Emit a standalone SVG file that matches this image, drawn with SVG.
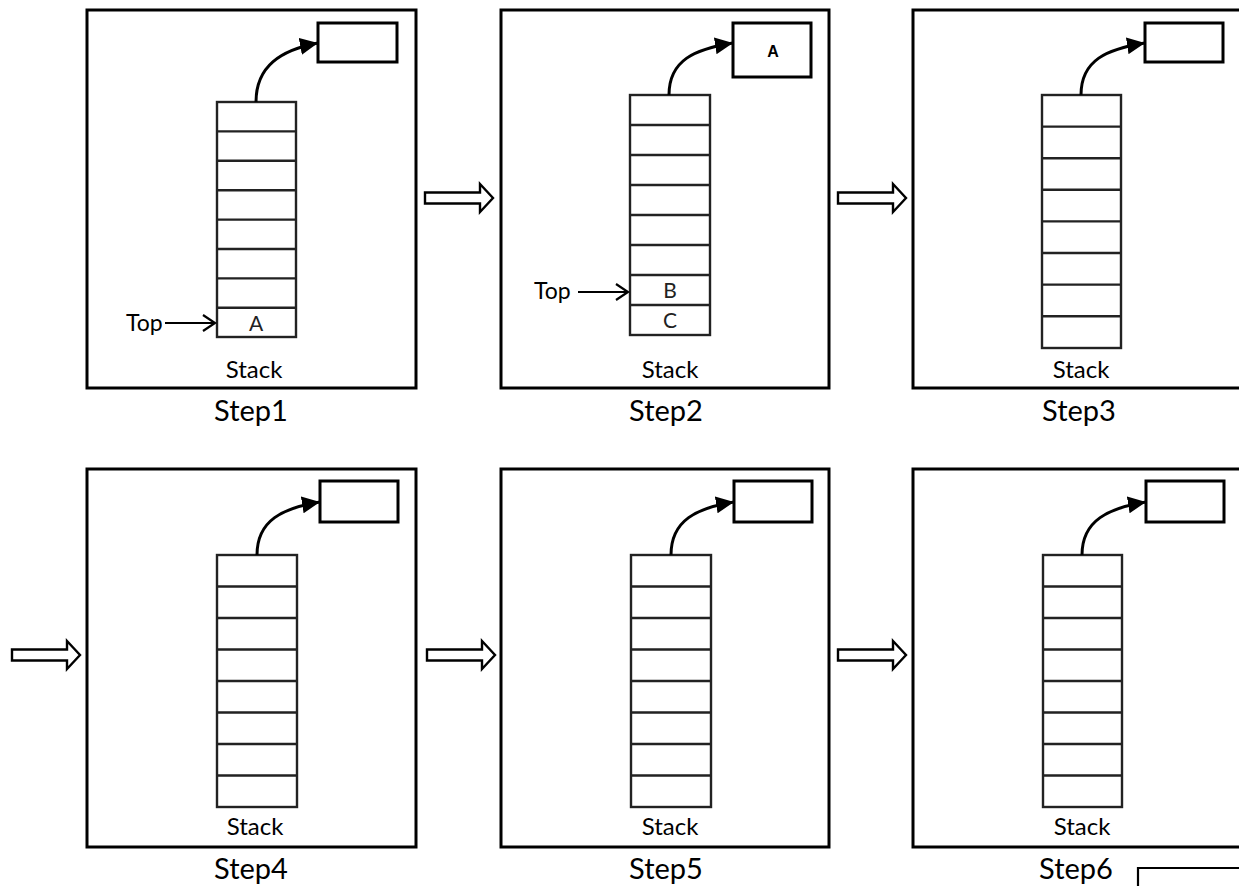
<svg xmlns="http://www.w3.org/2000/svg" width="1239" height="886" viewBox="0 0 1239 886">
  <style>
    .panel { fill: none; stroke: #000; stroke-width: 3; }
    .outbox { fill: #fff; stroke: #000; stroke-width: 3; }
    .stack { fill: none; stroke: #222; stroke-width: 2.4; }
    .pop { fill: none; stroke: #000; stroke-width: 3; marker-end: url(#head); }
    .ptr { fill: none; stroke: #000; stroke-width: 2.2; }
    .flow { fill: #fff; stroke: #000; stroke-width: 2.4; stroke-linejoin: miter; }
    .lbl { font-family: Lato, "Open Sans", sans-serif; text-anchor: middle; fill: #000; }
    .step { font-size: 29px; }
    .stk { font-size: 24px; }
    .cell { font-size: 21px; fill: #222; }
    .top { font-family: Lato, "Open Sans", sans-serif; font-size: 23px; fill: #000; }
    .val { font-family: "Liberation Sans", Arial, sans-serif; font-weight: bold; font-size: 16px; text-anchor: middle; }
  </style>
  <defs>
    <marker id="head" markerUnits="userSpaceOnUse" viewBox="0 0 18 17" refX="18" refY="8.5" markerWidth="18" markerHeight="17" orient="auto">
      <path d="M0,0 L18,8.5 L0,17 z" fill="#000"/>
    </marker>
    <path id="hollow" d="M0,-5.5 H55 V-14 L68,0 L55,14 V5.5 H0 Z"/>
  </defs>

  <rect width="1239" height="886" fill="#fff"/>

  <!-- Step 1 -->
  <g id="step1">
    <rect class="panel" x="87" y="10" width="329" height="378"/>
    <rect class="outbox" x="318" y="23" width="79" height="39"/>
    <rect class="stack" x="217" y="102" width="79" height="235"/>
    <path class="stack" d="M217,131.4H296M217,160.8H296M217,190.2H296M217,219.6H296M217,249H296M217,278.4H296M217,307.8H296"/>
    <text class="lbl cell" x="256" y="331">A</text>
    <text class="top" x="126" y="331">Top</text>
    <text class="lbl stk" x="254" y="378">Stack</text>
    <text class="lbl step" x="251" y="421">Step1</text>
  </g>

  <!-- Step 2 -->
  <g id="step2">
    <rect class="panel" x="501" y="10" width="328" height="378"/>
    <rect class="outbox" x="733" y="23" width="78" height="54"/>
    <text class="val" x="773" y="57">A</text>
    <rect class="stack" x="630" y="95" width="80" height="240"/>
    <path class="stack" d="M630,125H710M630,155H710M630,185H710M630,215H710M630,245H710M630,275H710M630,305H710"/>
    <text class="lbl cell" x="670" y="298">B</text>
    <text class="lbl cell" x="670" y="328">C</text>
    <text class="top" x="534" y="299">Top</text>
    <text class="lbl stk" x="670" y="378">Stack</text>
    <text class="lbl step" x="666" y="421">Step2</text>
  </g>

  <!-- Step 3 -->
  <g id="step3">
    <rect class="panel" x="913" y="10" width="340" height="378"/>
    <rect class="outbox" x="1145" y="23" width="78" height="39"/>
    <rect class="stack" x="1042" y="95" width="79" height="253"/>
    <path class="stack" d="M1042,126.6H1121M1042,158.2H1121M1042,189.8H1121M1042,221.4H1121M1042,253H1121M1042,284.6H1121M1042,316.2H1121"/>
    <text class="lbl stk" x="1081" y="378">Stack</text>
    <text class="lbl step" x="1079" y="421">Step3</text>
  </g>

  <!-- Step 4 -->
  <g id="step4">
    <rect class="panel" x="87" y="469" width="329" height="378"/>
    <rect class="outbox" x="320" y="481" width="78" height="41"/>
    <rect class="stack" x="217" y="555" width="80" height="252"/>
    <path class="stack" d="M217,586.5H297M217,618H297M217,649.5H297M217,681H297M217,712.5H297M217,744H297M217,775.5H297"/>
    <text class="lbl stk" x="255" y="835">Stack</text>
    <text class="lbl step" x="251" y="879">Step4</text>
  </g>

  <!-- Step 5 -->
  <g id="step5">
    <rect class="panel" x="501" y="469" width="328" height="378"/>
    <rect class="outbox" x="734" y="481" width="78" height="41"/>
    <rect class="stack" x="631" y="555" width="80" height="252"/>
    <path class="stack" d="M631,586.5H711M631,618H711M631,649.5H711M631,681H711M631,712.5H711M631,744H711M631,775.5H711"/>
    <text class="lbl stk" x="670" y="835">Stack</text>
    <text class="lbl step" x="666" y="879">Step5</text>
  </g>

  <!-- Step 6 -->
  <g id="step6">
    <rect class="panel" x="913" y="469" width="340" height="378"/>
    <rect class="outbox" x="1146" y="481" width="78" height="41"/>
    <rect class="stack" x="1043" y="555" width="79" height="252"/>
    <path class="stack" d="M1043,586.5H1122M1043,618H1122M1043,649.5H1122M1043,681H1122M1043,712.5H1122M1043,744H1122M1043,775.5H1122"/>
    <text class="lbl stk" x="1082" y="835">Stack</text>
    <text class="lbl step" x="1076" y="879">Step6</text>
  </g>

  <!-- corner of the next box -->
  <g id="next">
    <path class="ptr" d="M1138,890V868H1245"/>
  </g>

  <!-- connectors -->
  <g id="connectors">
    <path class="pop" d="M256,102 C256,66 281,50 318,43"/>
    <path class="pop" d="M669,95 C669,60 695,49 733,43"/>
    <path class="pop" d="M1081,95 C1081,60 1107,49 1145,43"/>
    <path class="pop" d="M257,555 C257,520 283,508 320,502"/>
    <path class="pop" d="M671,555 C671,520 697,508 734,502"/>
    <path class="pop" d="M1082,555 C1082,520 1109,508 1146,502"/>

    <path class="ptr" d="M165,323H215M203,315L215,323L203,331"/>
    <path class="ptr" d="M578,292H628M616,284L628,292L616,300"/>

    <use href="#hollow" class="flow" transform="translate(425,198)"/>
    <use href="#hollow" class="flow" transform="translate(838,198)"/>
    <use href="#hollow" class="flow" transform="translate(12,655)"/>
    <use href="#hollow" class="flow" transform="translate(427,655)"/>
    <use href="#hollow" class="flow" transform="translate(838,655)"/>
  </g>
</svg>
